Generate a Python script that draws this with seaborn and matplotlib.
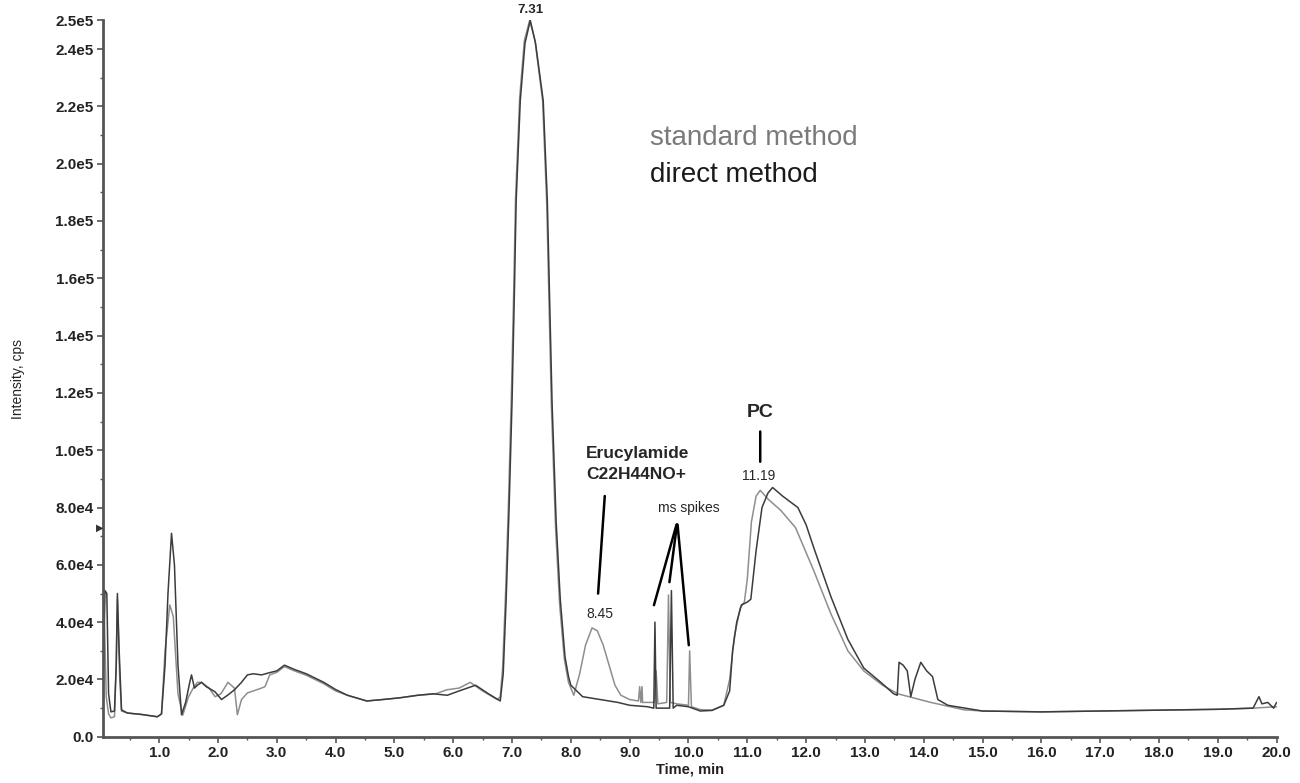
import pandas as pd
import seaborn as sns
import matplotlib.pyplot as plt
from matplotlib.ticker import FixedLocator, FixedFormatter, MultipleLocator

# 读图估计的数据点 (时间 min, 强度 cps)
std_time = [0.04, 0.07, 0.10, 0.14, 0.18, 0.24, 0.27, 0.29, 0.33, 0.36, 0.46, 0.70, 0.97, 1.04,
            1.10, 1.18, 1.24, 1.32, 1.40, 1.50, 1.58, 1.65, 1.72, 1.85, 1.95, 2.05, 2.17, 2.28,
            2.33, 2.40, 2.50, 2.60, 2.74, 2.80, 2.88, 3.00, 3.13, 3.30, 3.50, 3.65, 3.80, 4.00,
            4.20, 4.53, 4.80, 5.09, 5.40, 5.70, 5.89, 6.10, 6.29, 6.50, 6.75, 6.80, 6.84, 6.89,
            6.94, 6.99, 7.03, 7.06, 7.13, 7.21, 7.30, 7.39, 7.52, 7.59, 7.67, 7.74, 7.81, 7.89,
            7.96, 8.05, 8.15, 8.25, 8.36, 8.45, 8.55, 8.65, 8.75, 8.85, 9.00, 9.15, 9.17,
            9.19, 9.21, 9.22, 9.24, 9.42, 9.45, 9.48, 9.63, 9.66, 9.69, 9.80, 10.00, 10.02, 10.05,
            10.20, 10.40, 10.60, 10.70, 10.78, 10.88, 10.95, 11.00, 11.07, 11.15, 11.22, 11.35,
            11.57, 11.82, 12.13, 12.42, 12.71, 12.98, 13.30, 13.56, 14.12, 14.69, 15.00, 16.00,
            17.00, 18.00, 19.00, 19.60, 20.00]
std_int = [2.0e4, 4.0e4, 1.4e4, 8.0e3, 6.6e3, 7.0e3, 2.5e4, 4.8e4, 2.0e4, 9.0e3, 8.3e3, 7.8e3, 7.0e3, 8.0e3,
           3.0e4, 4.6e4, 4.2e4, 1.5e4, 7.5e3, 1.4e4, 1.7e4, 1.9e4, 1.9e4, 1.7e4, 1.4e4, 1.5e4, 1.9e4, 1.7e4,
           7.7e3, 1.3e4, 1.53e4, 1.6e4, 1.7e4, 1.75e4, 2.16e4, 2.25e4, 2.45e4, 2.3e4, 2.15e4, 2.0e4, 1.85e4, 1.6e4,
           1.45e4, 1.25e4, 1.3e4, 1.36e4, 1.45e4, 1.5e4, 1.64e4, 1.7e4, 1.9e4, 1.6e4, 1.3e4, 1.4e4, 2.4e4, 5.0e4,
           8.2e4, 1.2e5, 1.57e5, 1.88e5, 2.23e5, 2.43e5, 2.5e5, 2.43e5, 2.22e5, 1.86e5, 1.15e5, 7.3e4, 4.6e4, 2.7e4,
           1.9e4, 1.45e4, 2.2e4, 3.2e4, 3.8e4, 3.7e4, 3.2e4, 2.5e4, 1.8e4, 1.45e4, 1.3e4, 1.25e4, 1.75e4,
           1.2e4, 1.75e4, 1.2e4, 1.2e4, 1.2e4, 2.3e4, 1.15e4, 1.2e4, 4.95e4, 1.2e4, 1.15e4, 1.1e4, 3.0e4, 1.05e4,
           9.5e3, 9.3e3, 1.1e4, 2.0e4, 3.5e4, 4.5e4, 4.7e4, 5.5e4, 7.5e4, 8.4e4, 8.6e4, 8.3e4,
           7.9e4, 7.3e4, 5.8e4, 4.3e4, 3.0e4, 2.3e4, 1.8e4, 1.5e4, 1.2e4, 9.4e3, 9.0e3, 8.7e3,
           9.0e3, 9.3e3, 9.6e3, 1.0e4, 1.05e4]

dir_time = [0.04, 0.08, 0.11, 0.14, 0.18, 0.24, 0.27, 0.29, 0.32, 0.36, 0.46, 0.70, 0.97, 1.04,
            1.10, 1.15, 1.21, 1.26, 1.32, 1.38, 1.45, 1.52, 1.55, 1.60, 1.65, 1.72, 1.80, 1.95,
            2.06, 2.17, 2.28, 2.40, 2.50, 2.60, 2.74, 2.90, 3.00, 3.13, 3.30, 3.50, 3.65, 3.80,
            4.00, 4.20, 4.53, 4.80, 5.09, 5.40, 5.66, 5.90, 6.10, 6.38, 6.60, 6.80, 6.85, 6.90,
            6.95, 7.00, 7.04, 7.07, 7.14, 7.22, 7.31, 7.40, 7.53, 7.60, 7.68, 7.75, 7.82, 7.90,
            7.96, 8.00, 8.20, 8.50, 8.80, 9.00, 9.30, 9.41, 9.43, 9.45, 9.55, 9.68, 9.71,
            9.74, 9.80, 10.00, 10.20, 10.40, 10.60, 10.66, 10.70, 10.75, 10.82, 10.90, 11.00, 11.06,
            11.15, 11.25, 11.35, 11.43, 11.60, 11.86, 12.00, 12.13, 12.42, 12.71, 12.98, 13.27,
            13.49, 13.55, 13.58, 13.65, 13.72, 13.78, 13.85, 13.95, 14.05, 14.15, 14.24, 14.41,
            14.70, 15.00, 16.00, 17.00, 18.00, 19.00, 19.60, 19.70, 19.75, 19.85, 19.95, 20.00]
dir_int = [1.5e4, 5.1e4, 5.0e4, 1.5e4, 8.7e3, 9.0e3, 2.5e4, 5.0e4, 3.0e4, 9.4e3, 8.3e3, 7.8e3, 7.0e3, 8.0e3,
           2.5e4, 5.0e4, 7.1e4, 6.0e4, 2.5e4, 7.7e3, 1.2e4, 1.9e4, 2.16e4, 1.7e4, 1.8e4, 1.9e4, 1.75e4, 1.57e4,
           1.3e4, 1.46e4, 1.64e4, 1.9e4, 2.16e4, 2.2e4, 2.16e4, 2.25e4, 2.3e4, 2.5e4, 2.35e4, 2.2e4, 2.05e4, 1.9e4,
           1.65e4, 1.45e4, 1.25e4, 1.3e4, 1.36e4, 1.45e4, 1.5e4, 1.45e4, 1.6e4, 1.8e4, 1.5e4, 1.25e4, 2.2e4, 4.8e4,
           8.0e4, 1.17e5, 1.55e5, 1.87e5, 2.22e5, 2.42e5, 2.5e5, 2.42e5, 2.22e5, 1.87e5, 1.17e5, 7.5e4, 4.8e4, 2.8e4,
           2.1e4, 1.8e4, 1.4e4, 1.3e4, 1.2e4, 1.1e4, 1.05e4, 1.0e4, 4.0e4, 1.0e4, 1.0e4, 1.0e4, 5.1e4,
           1.0e4, 1.1e4, 1.05e4, 9.0e3, 9.2e3, 1.1e4, 1.4e4, 1.6e4, 3.0e4, 4.0e4, 4.6e4, 4.7e4, 4.8e4,
           6.5e4, 8.0e4, 8.5e4, 8.7e4, 8.4e4, 8.0e4, 7.4e4, 6.6e4, 4.9e4, 3.4e4, 2.4e4, 1.9e4,
           1.5e4, 1.45e4, 2.6e4, 2.5e4, 2.3e4, 1.4e4, 2.0e4, 2.6e4, 2.3e4, 2.1e4, 1.3e4, 1.1e4,
           1.0e4, 9.0e3, 8.7e3, 9.0e3, 9.3e3, 9.6e3, 1.0e4, 1.4e4, 1.15e4, 1.2e4, 1.0e4, 1.2e4]

y_ticks = [0, 2e4, 4e4, 6e4, 8e4, 1e5, 1.2e5, 1.4e5, 1.6e5, 1.8e5, 2e5, 2.2e5, 2.4e5, 2.5e5]
y_labels = ['0.0', '2.0e4', '4.0e4', '6.0e4', '8.0e4', '1.0e5', '1.2e5', '1.4e5', '1.6e5',
            '1.8e5', '2.0e5', '2.2e5', '2.4e5', '2.5e5']
x_ticks = [float(i) for i in range(1, 21)]
x_labels = ['%.1f' % v for v in x_ticks]

df = pd.concat([
    pd.DataFrame({'time': std_time, 'intensity': std_int, 'method': 'standard method'}),
    pd.DataFrame({'time': dir_time, 'intensity': dir_int, 'method': 'direct method'}),
])

sns.set_style('ticks')
plt.rcParams['font.family'] = ['Liberation Sans', 'DejaVu Sans']

fig = plt.figure(figsize=(13, 7.83), dpi=100)
ax = fig.add_axes([0.079, 0.059, 0.903, 0.915])

sns.lineplot(data=df, x='time', y='intensity', hue='method', sort=False,
             palette={'standard method': '#8e8e8e', 'direct method': '#3c3c3c'},
             linewidth=1.1, legend=False, ax=ax, estimator=None)

ax.set_xlim(0.04, 20.0)
ax.set_ylim(0, 2.5e5)
ax.yaxis.set_major_locator(FixedLocator(y_ticks))
ax.yaxis.set_major_formatter(FixedFormatter(y_labels))
ax.yaxis.set_minor_locator(MultipleLocator(1e4))
ax.xaxis.set_major_locator(FixedLocator(x_ticks))
ax.xaxis.set_major_formatter(FixedFormatter(x_labels))
ax.xaxis.set_minor_locator(MultipleLocator(0.5))
ax.tick_params(which='major', length=4, width=1.2, color='#555555', labelsize=11,
               labelcolor='#222222', pad=2.5)
ax.tick_params(which='minor', length=2.5, width=1, color='#555555')
for lab in ax.get_xticklabels() + ax.get_yticklabels():
    lab.set_fontweight('bold')

sns.despine(ax=ax)
for s in ['left', 'bottom']:
    ax.spines[s].set_color('#555555')
    ax.spines[s].set_linewidth(2)

ax.set_xlabel('Time, min', fontsize=10.5, fontweight='bold', color='#222222', labelpad=2)
ax.set_ylabel('Intensity, cps', fontsize=10, color='#222222', labelpad=22)

# 图例文字
ax.text(9.35, 2.09e5, 'standard method', fontsize=20, color='#7a7a7a', va='center')
ax.text(9.35, 1.96e5, 'direct method', fontsize=20, color='#1a1a1a', va='center')

# 峰标注
ax.text(7.31, 2.515e5, '7.31', fontsize=9.5, fontweight='bold', ha='center', va='bottom')
ax.text(8.26, 9.9e4, 'Erucylamide', fontsize=12.5, fontweight='bold', ha='left', va='center')
ax.text(8.26, 9.15e4, 'C22H44NO+', fontsize=12.5, fontweight='bold', ha='left', va='center')
ax.annotate('', xy=(8.46, 4.9e4), xytext=(8.58, 8.5e4),
            arrowprops=dict(arrowstyle='-', color='black', lw=1.8))
ax.text(8.5, 4.3e4, '8.45', fontsize=10, ha='center', va='center')

ax.text(10.01, 8.0e4, 'ms spikes', fontsize=10, ha='center', va='center')
for tx, ty in [(9.40, 4.5e4), (9.67, 5.3e4), (10.01, 3.1e4)]:
    ax.annotate('', xy=(tx, ty), xytext=(9.81, 7.5e4),
                arrowprops=dict(arrowstyle='-', color='black', lw=1.8))

ax.text(11.22, 1.13e5, 'PC', fontsize=14, fontweight='bold', ha='center', va='center')
ax.annotate('', xy=(11.22, 9.5e4), xytext=(11.22, 1.075e5),
            arrowprops=dict(arrowstyle='-', color='black', lw=1.8))
ax.text(11.19, 9.1e4, '11.19', fontsize=10, ha='center', va='center')

ax.text(-0.01, 7.3e4, '\u25b6', fontsize=7, ha='center', va='center', color='#333333',
        family='DejaVu Sans')

plt.savefig('out.png', dpi=100)
